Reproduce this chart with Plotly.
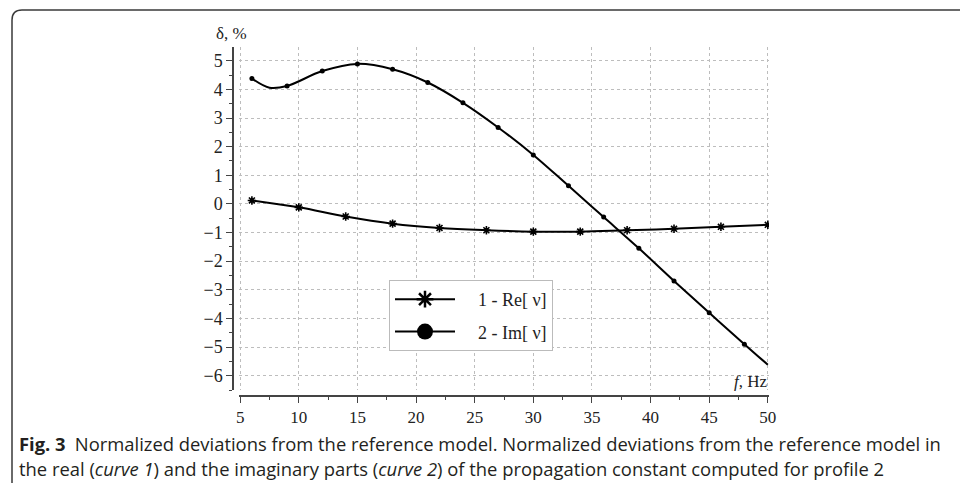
import plotly.graph_objects as go

# ---- data ----
im_line_f = [6, 7.5, 9, 12, 15, 18, 21, 24, 27, 30, 33, 36, 39, 42, 45, 48, 50]
im_line_v = [4.38, 4.06, 4.12, 4.64, 4.89, 4.70, 4.24, 3.53, 2.67, 1.71, 0.63, -0.46, -1.55, -2.69, -3.80, -4.90, -5.62]
im_mark_f = [6, 9, 12, 15, 18, 21, 24, 27, 30, 33, 36, 39, 42, 45, 48]
im_mark_v = [4.38, 4.12, 4.64, 4.89, 4.70, 4.24, 3.53, 2.67, 1.71, 0.63, -0.46, -1.55, -2.69, -3.80, -4.90]

re_f = [6, 10, 14, 18, 22, 26, 30, 34, 38, 42, 46, 50]
re_v = [0.12, -0.12, -0.44, -0.69, -0.84, -0.92, -0.97, -0.97, -0.92, -0.87, -0.80, -0.73]

legend_names = ["\u00a0\u00a0\u00a0\u00a01 - Re[ \u03bd]", "\u00a0\u00a0\u00a0\u00a02 - Im[ \u03bd]"]
caption_1 = "<b>Fig. 3</b>\u2002Normalized deviations from the reference model. Normalized deviations from the reference model in"
caption_2 = "the real (<i>curve 1</i>) and the imaginary parts (<i>curve 2</i>) of the propagation constant computed for profile 2"

W, H = 960, 483
ML, MR, MT, MB = 233, 191, 47, 87
PW, PH = W - ML - MR, H - MT - MB


def px_x(p):
    return (p - ML) / PW


def px_y(p):
    return (H - MB - p) / PH


SERIF = "Liberation Serif"
INK = "#222222"
AX = "#444444"

fig = go.Figure()

fig.add_trace(go.Scatter(x=re_f, y=re_v, mode="lines", line=dict(color="black", width=2, shape="spline"),
                         showlegend=False, hoverinfo="skip"))
fig.add_trace(go.Scatter(x=re_f, y=re_v, mode="markers",
                         marker=dict(symbol="asterisk-open", size=7, color="black", line=dict(color="black", width=1.6)),
                         showlegend=False))
fig.add_trace(go.Scatter(x=im_line_f, y=im_line_v, mode="lines", line=dict(color="black", width=2, shape="spline"),
                         showlegend=False, hoverinfo="skip"))
fig.add_trace(go.Scatter(x=im_mark_f, y=im_mark_v, mode="markers",
                         marker=dict(symbol="circle", size=5, color="black"), showlegend=False))

# legend entries
fig.add_trace(go.Scatter(x=[None], y=[None], mode="lines+markers", name=legend_names[0], legendgroup="a",
                         line=dict(color="black", width=2),
                         marker=dict(symbol="asterisk-open", size=14, color="black", line=dict(color="black", width=2.5))))
fig.add_trace(go.Scatter(x=[None], y=[None], mode="lines+markers", name=legend_names[1], legendgroup="b",
                         line=dict(color="black", width=2),
                         marker=dict(symbol="circle", size=16, color="black")))

fig.update_layout(
    width=W, height=H,
    margin=dict(l=ML, r=MR, t=MT, b=MB, pad=0),
    paper_bgcolor="white", plot_bgcolor="white",
    font=dict(family=SERIF, size=17, color=INK),
    xaxis=dict(domain=[6 / PW, 1], anchor="free", position=0, range=[4.9, 50.1],
               tickmode="linear", tick0=5, dtick=5, ticks="outside", ticklen=6, tickwidth=1.2, tickcolor=AX,
               showline=True, linecolor=AX, linewidth=1.5,
               showgrid=True, gridcolor="#bdbdbd", griddash="dot", gridwidth=1, zeroline=False,
               minor=dict(dtick=2.5, tick0=5, ticks="outside", ticklen=3, tickcolor=AX, showgrid=False),
               tickfont=dict(family=SERIF, size=17, color=INK)),
    yaxis=dict(domain=[6 / PH, 1], anchor="free", position=0, range=[-6.5, 5.48],
               tickmode="linear", tick0=0, dtick=1, ticks="outside", ticklen=6, tickwidth=1.2, tickcolor=AX,
               showline=True, linecolor=AX, linewidth=1.5,
               showgrid=True, gridcolor="#bdbdbd", griddash="dot", gridwidth=1, zeroline=False,
               minor=dict(dtick=0.5, tick0=0, ticks="outside", ticklen=3, tickcolor=AX, showgrid=False),
               tickfont=dict(family=SERIF, size=18, color=INK)),
    legend=dict(x=px_x(389), y=px_y(280), xanchor="left", yanchor="top",
                bgcolor="white", bordercolor="#bbbbbb", borderwidth=1,
                font=dict(family=SERIF, size=18, color=INK), itemwidth=60, tracegroupgap=6),
    shapes=[dict(type="path", xref="paper", yref="paper",
                 path=(f"M{px_x(12)},{px_y(483)} L{px_x(12)},{px_y(20)} "
                       f"Q{px_x(12)},{px_y(10)} {px_x(22)},{px_y(10)} L{px_x(960)},{px_y(10)}"),
                 line=dict(color="#3a3a3a", width=1.5))],
    annotations=[
        dict(text="\u03b4, %", xref="paper", yref="paper", x=px_x(231), y=px_y(33), showarrow=False,
             xanchor="center", yanchor="middle", font=dict(family=SERIF, size=17, color=INK)),
        dict(text="<i>f</i>, Hz", xref="paper", yref="paper", x=px_x(770), y=px_y(381), showarrow=False,
             xanchor="right", yanchor="middle", font=dict(family=SERIF, size=17, color=INK)),
        dict(text=caption_1, xref="paper", yref="paper", x=px_x(17), y=px_y(443), showarrow=False,
             xanchor="left", yanchor="middle", font=dict(family="Open Sans", size=18.4, color="#231f20")),
        dict(text=caption_2, xref="paper", yref="paper", x=px_x(17), y=px_y(468), showarrow=False,
             xanchor="left", yanchor="middle", font=dict(family="Open Sans", size=18.4, color="#231f20")),
    ],
)

fig.write_html("out.html", config={"displayModeBar": False},
               post_script="document.body.style.margin='0px';")
